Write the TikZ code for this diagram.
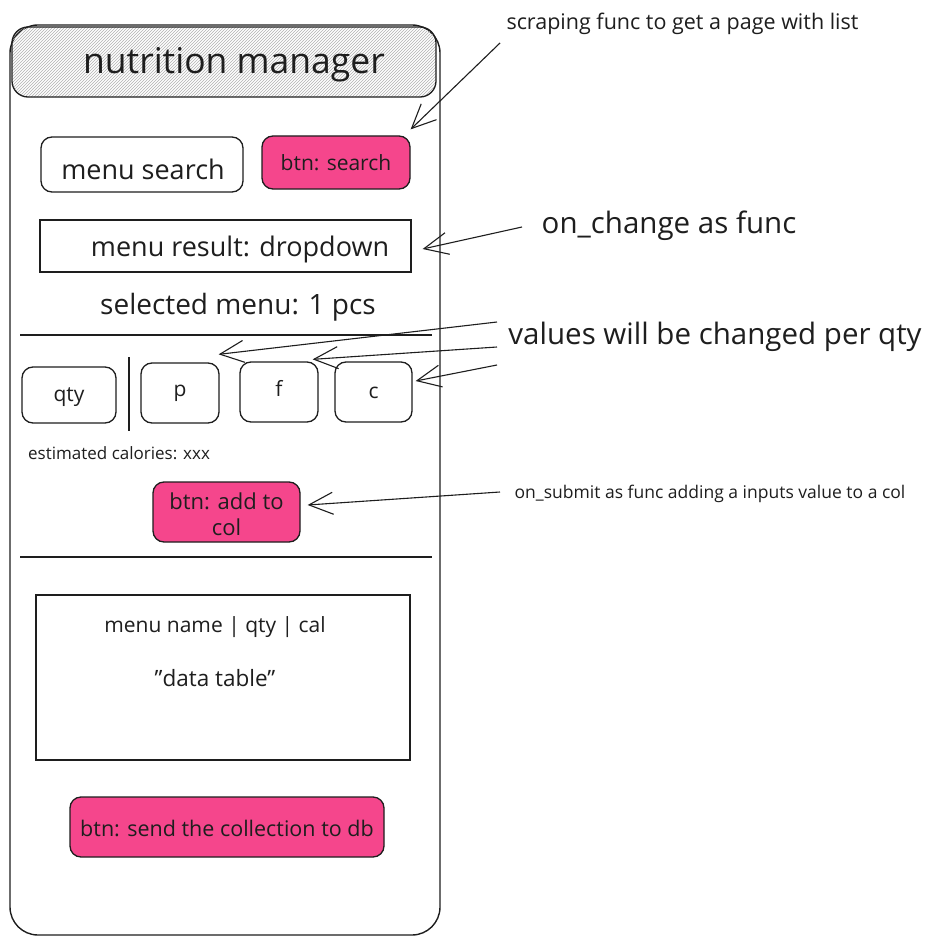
\documentclass[tikz,border=0pt]{standalone}
\usepackage{fontspec}
\setmainfont{Open Sans}
\usetikzlibrary{arrows.meta,patterns}
\definecolor{pinkbtn}{RGB}{245,70,140}
\definecolor{ink}{RGB}{30,30,30}
\newcommand{\tsz}[2]{\fontsize{#1}{#2}\selectfont}
\begin{document}
\begin{tikzpicture}[x=1pt,y=-1pt,
  box/.style={draw=ink, line width=1.3pt, rounded corners=11pt, inner sep=0pt},
  sqbox/.style={draw=ink, line width=1.3pt, inner sep=0pt},
  btn/.style={box, fill=pinkbtn},
  lbl/.style={inner sep=0pt, text=ink},
  divider/.style={draw=ink, line width=1.3pt},
  arr/.style={draw=ink, line width=1.1pt, -{Straight Barb[length=24pt,width=22pt,line width=1.1pt]}}]
\useasboundingbox[fill=white] (0,0) rectangle (932,944);

% phone frame
\node[draw=ink, line width=1.4pt, rounded corners=28pt, minimum width=430pt, minimum height=910pt, inner sep=0pt] (frame) at (225,480) {};
% header
\node[draw=ink, line width=1.3pt, rounded corners=16pt, minimum width=424pt, minimum height=70pt, inner sep=0pt,
      pattern=north east lines, pattern color=gray!60] (header) at (224,62) {};
\node[lbl, font=\tsz{35.5}{40}] (title) at (234,65) {nutrition manager};

% search row
\node[box, minimum width=202pt, minimum height=55pt] (search) at (142,164.5) {};
\node[lbl, font=\tsz{27}{32}] (searchtxt) at (143,169) {menu search};
\node[btn, minimum width=148pt, minimum height=53pt] (btnsearch) at (336,162.5) {};
\node[lbl, font=\tsz{21}{25}] (btnsearchtxt) at (336,163) {btn: search};

% dropdown
\node[sqbox, minimum width=371pt, minimum height=52pt] (result) at (225.5,246) {};
\node[lbl, font=\tsz{27}{32}] (resulttxt) at (240,249) {menu result: dropdown};

\node[lbl, font=\tsz{28}{33}] (selected) at (238,307) {selected menu: 1 pcs};

% divider 1
\coordinate (d1a) at (20,335);
\coordinate (d1b) at (432,335);
\draw[divider] (d1a) -- (d1b);

% value boxes
\node[box, minimum width=94pt, minimum height=56pt] (qty) at (69,395) {};
\node[lbl, font=\tsz{21}{25}] (qtytxt) at (69,397) {qty};
\coordinate (vsa) at (129,357);
\coordinate (vsb) at (129,431);
\draw[divider] (vsa) -- (vsb);
\node[box, minimum width=78pt, minimum height=60pt] (p) at (180,393) {};
\node[lbl, font=\tsz{21}{25}] (ptxt) at (180,393) {p};
\node[box, minimum width=78pt, minimum height=60pt] (f) at (279,392) {};
\node[lbl, font=\tsz{21}{25}] (ftxt) at (279,388) {f};
\node[box, minimum width=77pt, minimum height=60pt] (c) at (373.5,392) {};
\node[lbl, font=\tsz{21}{25}] (ctxt) at (373.5,393) {c};

\node[lbl, anchor=west, font=\tsz{17}{20}] (est) at (28,453) {estimated calories: xxx};

\node[btn, minimum width=147pt, minimum height=60pt] (btnadd) at (226.5,512) {};
\node[lbl, align=center, font=\tsz{22}{26}] (btnaddtxt) at (226.5,514) {btn: add to\\col};

% divider 2
\coordinate (d2a) at (20,557);
\coordinate (d2b) at (432,557);
\draw[divider] (d2a) -- (d2b);

% data table
\node[sqbox, minimum width=374pt, minimum height=165pt] (table) at (223,677.5) {};
\node[lbl, font=\tsz{21}{25}] (tablehead) at (215,627) {menu name | qty | cal};
\node[lbl, font=\tsz{22.5}{27}] (tablebody) at (215,678) {\symbol{34}data table\symbol{34}};

\node[btn, minimum width=314pt, minimum height=60pt] (btnsend) at (227,827) {};
\node[lbl, font=\tsz{21.5}{26}] (btnsendtxt) at (227,828) {btn: send the collection to db};

% annotations
\node[lbl, font=\tsz{21.5}{26}] (scrap) at (682.5,24) {scraping func to get a page with list};
\coordinate (scrapstart) at (500,43);
\draw[arr] (scrapstart) -- ([shift={(0,-6)}]btnsearch.north east);

\node[lbl, font=\tsz{29.5}{34}] (onchange) at (669,226) {on\_change as func};
\coordinate (chstart) at (522,227);
\draw[arr] (chstart) -- ([shift={(11,3)}]result.east);

\node[lbl, font=\tsz{29.5}{34}] (values) at (715,337) {values will be changed per qty};
\coordinate (v1) at (497,322);
\coordinate (v2) at (497,347);
\coordinate (v3) at (497,365);
\draw[arr] (v1) -- ([shift={(-1,-8)}]p.north east);
\draw[arr] (v2) -- ([shift={(-6,-2)}]f.north east);
\draw[arr] (v3) -- ([shift={(3,-11)}]c.east);

\node[lbl, font=\tsz{17.5}{21}] (onsubmit) at (710,494) {on\_submit as func adding a inputs value to a col};
\coordinate (substart) at (500,492);
\draw[arr] (substart) -- ([shift={(7,-7)}]btnadd.east);
\end{tikzpicture}
\end{document}
